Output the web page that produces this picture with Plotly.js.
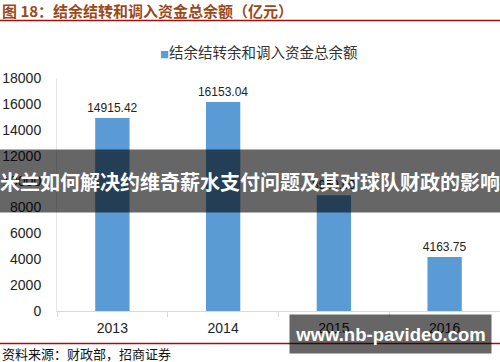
<!DOCTYPE html>
<html><head><meta charset="utf-8">
<script src="https://cdn.plot.ly/plotly-3.0.1.min.js"></script>
<style>html,body{margin:0;padding:0;background:#fff}</style>
</head><body><div id="chart" style="width:500px;height:362px"></div>
<script>
const years = ['2013','2014','2015','2016'];
const balances = [14915.42, 16153.04, 8950, 4163.75];
const yTicks = [0,2000,4000,6000,8000,10000,12000,14000,16000,18000];
const seriesName = '结余结转余和调入资金总余额';
const chartTitle = '图 18：结余结转和调入资金总余额（亿元）';
const sourceNote = '资料来源：财政部，招商证券';
const bannerText = '米兰如何解决约维奇薪水支付问题及其对球队财政的影响';
const watermark = 'www.nb-pavideo.com';

const L=57, R=500, T=78, B=311;
const W=R-L, H=B-T;
const px = x => (x-L)/W;
const py = y => (B-y)/H;

const cjk = '"Noto Sans CJK SC", "Liberation Sans", sans-serif';
const sans = '"Liberation Sans", Arial, sans-serif';

const traces = [{
  type:'bar', x:years, y:balances, width:0.31,
  marker:{color:'#5b9bd5'},
  text:balances.map(v=>v.toFixed(2)), textposition:'outside', constraintext:'none',
  textfont:{family:sans, size:12, color:'#222'}, cliponaxis:false,
  showlegend:false, hoverinfo:'none'
}];

const layout = {
  width:500, height:362,
  margin:{l:L, r:0, t:T, b:362-B, pad:0},
  paper_bgcolor:'#fff', plot_bgcolor:'#fff',
  font:{family:cjk, color:'#222'},
  showlegend:false,
  bargap:0.69,
  xaxis:{type:'category', range:[-0.5,3.5], showline:true, linecolor:'#d9d9d9', linewidth:1,
    ticks:'outside', tickson:'boundaries', ticklen:5, tickcolor:'#d9d9d9', ticklabelstandoff:4,
    showgrid:false, zeroline:false, tickfont:{family:sans, size:14, color:'#222'}},
  yaxis:{range:[0,18000], tickvals:yTicks, ticktext:yTicks.map(String), showline:true, linecolor:'#e6e6e6', linewidth:1,
    showgrid:false, zeroline:false, ticks:'', ticklabelstandoff:12,
    tickfont:{family:sans, size:14, color:'#222'}},
  shapes:[
    {type:'line', xref:'paper', yref:'paper', x0:px(0), x1:px(500), y0:py(20.5), y1:py(20.5), line:{color:'#a01010', width:1.5}},
    {type:'line', xref:'paper', yref:'paper', x0:px(0), x1:px(500), y0:py(343.5), y1:py(343.5), line:{color:'#a01010', width:1.5}}
  ],
  annotations:[
    {xref:'paper', yref:'paper', x:px(0), y:py(11), xanchor:'left', yanchor:'middle', showarrow:false,
     text:'<b>'+chartTitle+'</b>', font:{family:cjk, size:15, color:'#9a4a1a'}},
    {xref:'paper', yref:'paper', x:px(158), y:py(52), xanchor:'left', yanchor:'middle', showarrow:false,
     text:'<span style="color:#5b9bd5;font-size:9px">■</span>'+seriesName, font:{family:cjk, size:14.5, color:'#333'}},
    {xref:'paper', yref:'paper', x:px(0), y:py(353), xanchor:'left', yanchor:'middle', showarrow:false,
     text:sourceNote, font:{family:cjk, size:13, color:'#111'}},
    {xref:'paper', yref:'paper', x:px(250), y:py(181), xanchor:'center', yanchor:'middle', showarrow:false,
     width:500, height:62, bgcolor:'rgba(0,0,0,0.6)', borderpad:0,
     text:'<b>'+bannerText+'</b>', font:{family:cjk, size:20, color:'#fff'}},
    {xref:'paper', yref:'paper', x:px(390.5), y:py(334), xanchor:'center', yanchor:'middle', showarrow:false,
     width:201, height:38, bgcolor:'rgba(0,0,0,0.6)', borderpad:0,
     text:'<b>'+watermark+'</b>', font:{family:sans, size:18.5, color:'#fff'}}
  ]
};
Plotly.newPlot('chart', traces, layout, {staticPlot:true, displayModeBar:false});
</script></body></html>
